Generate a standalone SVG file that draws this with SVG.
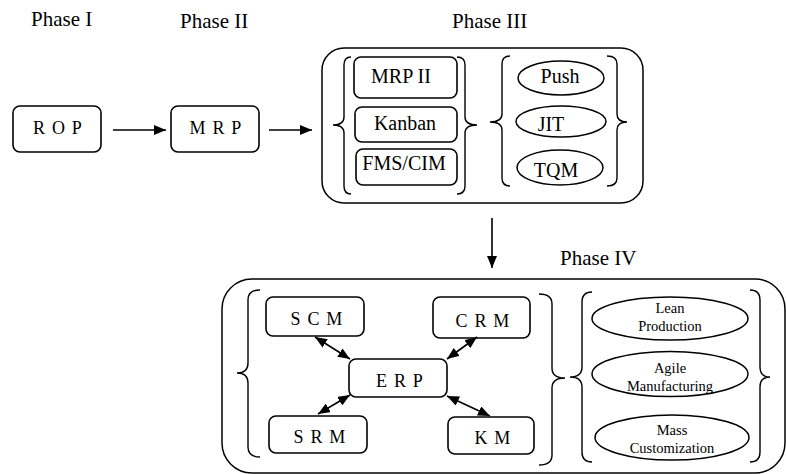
<svg xmlns="http://www.w3.org/2000/svg" width="786" height="474" viewBox="0 0 786 474">
<defs>
<style>
text{font-family:'Liberation Serif','Times New Roman','DejaVu Serif',serif;fill:#000}
.bx{fill:#fff;stroke:#000;stroke-width:1.6}
.el{fill:#fff;stroke:#000;stroke-width:1.5}
.ct{fill:none;stroke:#000;stroke-width:1.5}
.br{fill:none;stroke:#000;stroke-width:1.4}
.ph{font-size:21px}
.lb{font-size:18px;letter-spacing:1.2px;text-anchor:middle}
.l3{font-size:20px;text-anchor:middle}
.l4{font-size:14.5px;text-anchor:middle}
.cn{fill:none;stroke:#000;stroke-width:1.6}
</style>
<marker id="ah" viewBox="0 0 12 10" refX="12" refY="5" markerWidth="12" markerHeight="10" markerUnits="userSpaceOnUse" orient="auto-start-reverse">
<path d="M0,0 L12,5 L0,10 Z" fill="#000"/>
</marker>
</defs>

<text class="ph" x="31" y="26">Phase I</text>
<text class="ph" x="180" y="28">Phase II</text>
<text class="ph" x="452" y="28">Phase III</text>
<text class="ph" x="560" y="265">Phase IV</text>

<g id="rop"><rect class="bx" x="13" y="106" width="88" height="46" rx="7"/><text class="lb" x="58" y="134">R O P</text></g>
<g id="mrp"><rect class="bx" x="171" y="106" width="88" height="46" rx="7"/><text class="lb" x="216" y="134">M R P</text></g>

<g id="phase3">
<rect class="ct" x="322" y="48" width="321" height="155" rx="22"/>
<path class="br" d="M351,57 Q344,57 344,65 L344,117 Q344,125 333,125 Q344,125 344,133 L344,186 Q344,194 351,194"/>
<path class="br" d="M457,57 Q465,57 465,65 L465,117 Q465,125 477,125 Q465,125 465,133 L465,186 Q465,194 457,194"/>
<path class="br" d="M510,56 Q502,56 502,64 L502,114 Q502,122 490,122 Q502,122 502,130 L502,178 Q502,186 510,186"/>
<path class="br" d="M607,56 Q617,56 617,64 L617,114 Q617,122 627,122 Q617,122 617,130 L617,178 Q617,186 607,186"/>
</g>
<g id="mrp2"><rect class="bx" x="354" y="57" width="103" height="41" rx="7"/><text class="l3" x="401" y="83">MRP II</text></g>
<g id="kanban"><rect class="bx" x="355" y="107" width="102" height="35" rx="7"/><text class="l3" x="405" y="130">Kanban</text></g>
<g id="fmscim"><rect class="bx" x="356" y="149" width="101" height="36" rx="7"/><text class="l3" x="404" y="170">FMS/CIM</text></g>
<g id="push"><ellipse class="el" cx="561" cy="78" rx="43" ry="17"/><text class="l3" x="560" y="83">Push</text></g>
<g id="jit"><ellipse class="el" cx="561" cy="121.5" rx="45" ry="15.5"/><text class="l3" x="551" y="131">JIT</text></g>
<g id="tqm"><ellipse class="el" cx="560" cy="167.5" rx="43" ry="17.5"/><text class="l3" x="556" y="177">TQM</text></g>

<g id="phase4">
<rect class="ct" x="222" y="279" width="563" height="194" rx="30"/>
<path class="br" d="M260,290 Q248,290 248,300 L248,363 Q248,373 237,373 Q248,373 248,383 L248,447 Q248,457 260,457"/>
<path class="br" d="M539,294 Q552,294 552,304 L552,368 Q552,378 565,378 Q552,378 552,388 L552,455 Q552,465 539,465"/>
<path class="br" d="M592,292 Q582,292 582,302 L582,367 Q582,377 570,377 Q582,377 582,387 L582,452 Q582,462 592,462"/>
<path class="br" d="M750,290 Q760,290 760,300 L760,367 Q760,377 770,377 Q760,377 760,387 L760,452 Q760,462 750,462"/>
</g>
<g id="scm"><rect class="bx" x="266" y="297" width="98" height="39" rx="7"/><text class="lb" x="317" y="325">S C M</text></g>
<g id="crm"><rect class="bx" x="433" y="297" width="97" height="41" rx="7"/><text class="lb" x="483" y="327">C R M</text></g>
<g id="erp"><rect class="bx" x="349" y="359" width="98" height="38" rx="7"/><text class="lb" x="400" y="387">E R P</text></g>
<g id="srm"><rect class="bx" x="269" y="416" width="98" height="37" rx="7"/><text class="lb" x="320" y="443">S R M</text></g>
<g id="km"><rect class="bx" x="448" y="417" width="86" height="37" rx="7"/><text class="lb" x="493" y="444">K M</text></g>
<g id="lean"><ellipse class="el" cx="670" cy="318.5" rx="78" ry="21.5"/><text class="l4" x="670" y="313">Lean</text><text class="l4" x="670" y="330.5">Production</text></g>
<g id="agile"><ellipse class="el" cx="670" cy="374" rx="78" ry="22.5"/><text class="l4" x="670" y="373">Agile</text><text class="l4" x="670" y="390.5">Manufacturing</text></g>
<g id="mass"><ellipse class="el" cx="672" cy="437.5" rx="77" ry="22.5"/><text class="l4" x="672" y="435">Mass</text><text class="l4" x="672" y="452.5">Customization</text></g>

<g id="connectors">
<line class="cn" x1="113" y1="130" x2="166" y2="130" marker-end="url(#ah)"/>
<line class="cn" x1="269" y1="130" x2="312" y2="130" marker-end="url(#ah)"/>
<line class="cn" x1="492" y1="218" x2="492" y2="268" marker-end="url(#ah)"/>
<line class="cn" x1="315" y1="337" x2="350" y2="359" marker-start="url(#ah)" marker-end="url(#ah)"/>
<line class="cn" x1="477" y1="337" x2="447" y2="359" marker-start="url(#ah)" marker-end="url(#ah)"/>
<line class="cn" x1="318" y1="414" x2="350" y2="395" marker-start="url(#ah)" marker-end="url(#ah)"/>
<line class="cn" x1="490" y1="416" x2="447" y2="396" marker-start="url(#ah)" marker-end="url(#ah)"/>
</g>
</svg>
